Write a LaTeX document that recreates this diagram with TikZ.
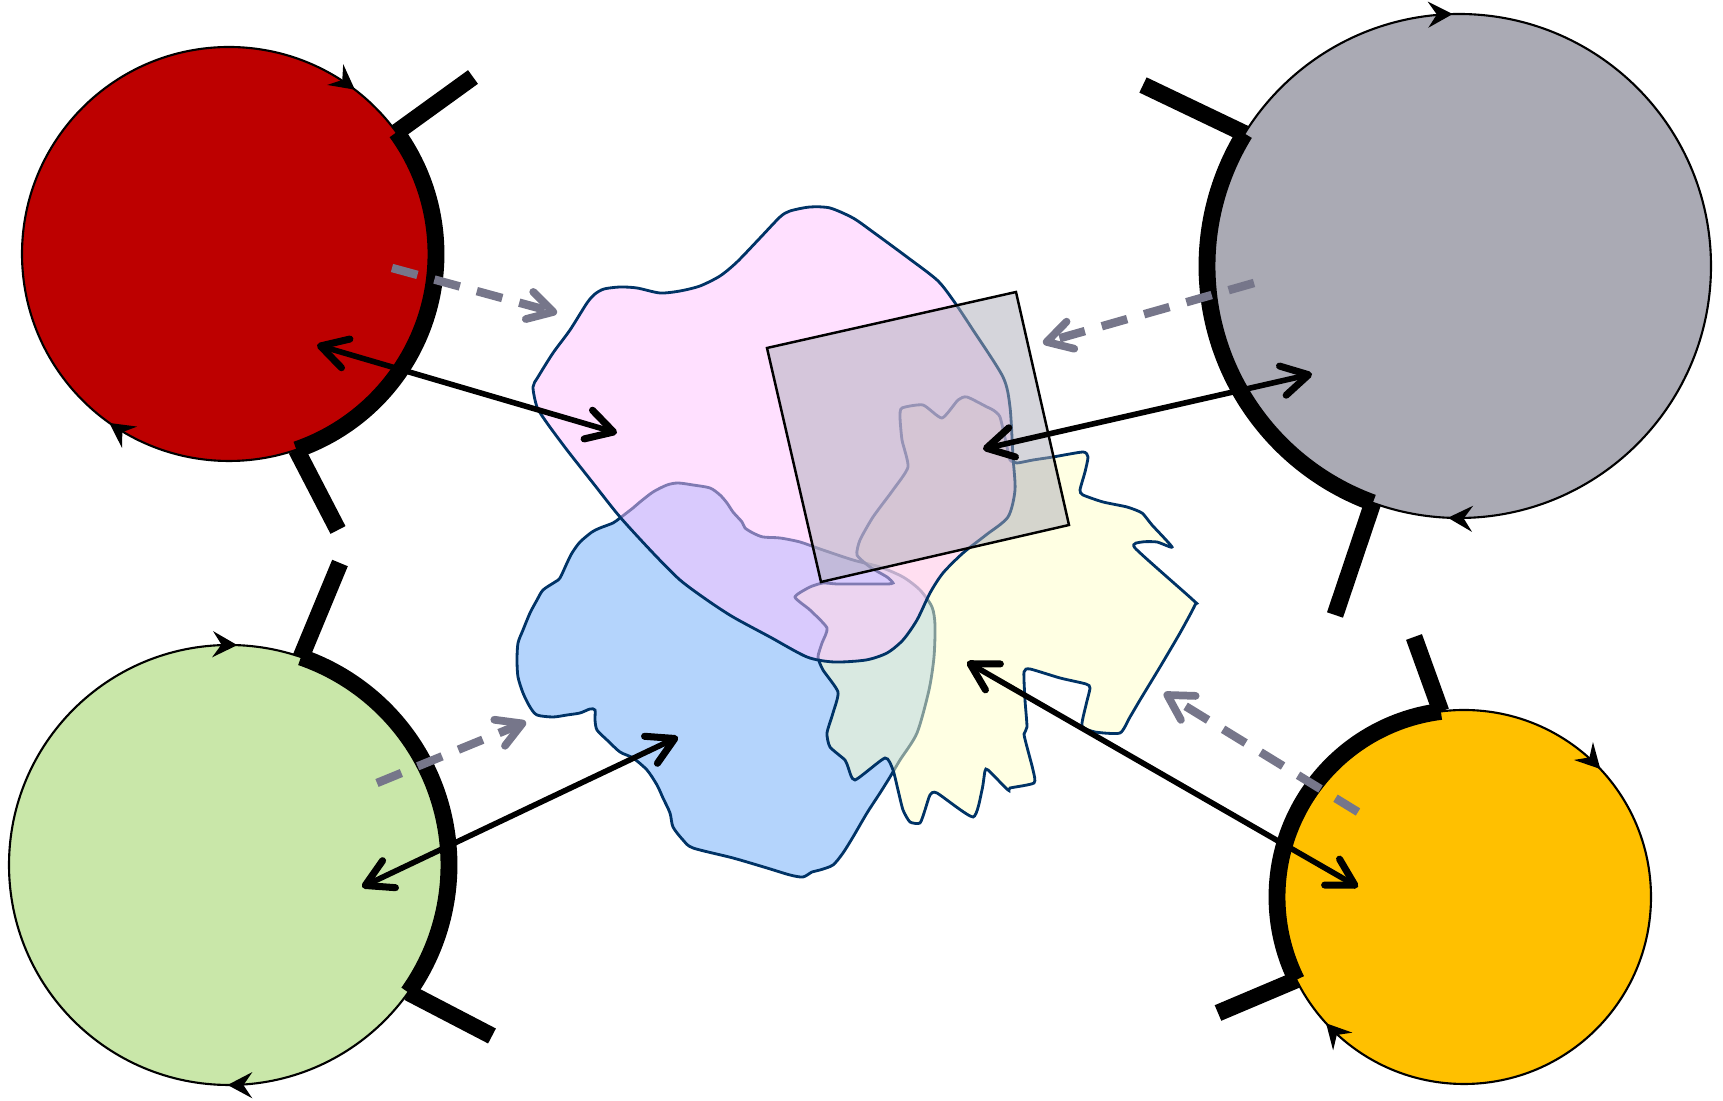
\documentclass[tikz,border=0pt]{standalone}
\usetikzlibrary{arrows.meta,decorations.markings}
\definecolor{cRed}{RGB}{189,0,0}
\definecolor{cGray}{RGB}{170,170,180}
\definecolor{cGreen}{RGB}{201,231,169}
\definecolor{cGold}{RGB}{255,192,0}
\definecolor{cBlue}{RGB}{180,212,252}
\definecolor{cPink}{RGB}{255,193,255}
\definecolor{cYel}{RGB}{255,255,200}
\definecolor{cSq}{RGB}{172,172,184}
\definecolor{cLine}{RGB}{0,51,102}
\definecolor{cDash}{RGB}{118,118,138}
\tikzset{
  disc/.style={draw=black,line width=0.6pt},
  rim/.style={line width=4.8pt},
  twomarks/.style 2 args={postaction={decorate},decoration={markings,
    mark=at position #1 with {\arrow{Stealth[length=7pt,width=7.4pt,inset=2.5pt]}},
    mark=at position #2 with {\arrow{Stealth[length=7pt,width=7.4pt,inset=2.5pt]}}}},
  blob/.style={draw=cLine,line width=0.8pt},
  link/.style={line width=1.6pt,
    {Straight Barb[length=7.5pt,width=8.5pt,line width=2pt,round]}-{Straight Barb[length=7.5pt,width=8.5pt,line width=2pt,round]}},
  hint/.style={draw=cDash,line width=2.4pt,dash pattern=on 7.5pt off 5pt,
    -{Straight Barb[length=7pt,width=8pt,line width=2.2pt,round]}}
}
\begin{document}
\begin{tikzpicture}[x=0.01cm,y=-0.01cm]
\useasboundingbox (0,0) rectangle (1723,1101);

% ---- circles ----
\coordinate (R) at (229,254);
\coordinate (G) at (1459,266);
\coordinate (N) at (229,865);
\coordinate (Y) at (1464,897);

\filldraw[fill=cRed,disc,twomarks={0.348}{0.854}] (R) circle[radius=207];
\filldraw[fill=cGray,disc,twomarks={0.257}{0.746}] (G) circle[radius=252];
\filldraw[fill=cGreen,disc,twomarks={0.251}{0.756}] (N) circle[radius=220];
\filldraw[fill=cGold,disc,twomarks={0.382}{0.880}] (Y) circle[radius=187];

% ---- thick rims and ticks ----
\path (R) ++(-36:207) coordinate (Ra);
\path (R) ++(71:207) coordinate (Rb);
\path (G) ++(211.7:252) coordinate (Ga);
\path (G) ++(110:252) coordinate (Gb);
\path (N) ++(-70.9:220) coordinate (Na);
\path (N) ++(35.4:220) coordinate (Nb);
\path (Y) ++(262.9:187) coordinate (Ya);
\path (Y) ++(153.7:187) coordinate (Yb);
\coordinate (RaT) at (473,77);
\coordinate (RbT) at (338,530);
\coordinate (GaT) at (1143,85);
\coordinate (GbT) at (1335,615);
\coordinate (NaT) at (340,563);
\coordinate (NbT) at (492,1036);
\coordinate (YaT) at (1414,637);
\coordinate (YbT) at (1218,1013);

\draw[rim] (Ra) arc[start angle=-36,end angle=71,radius=207];
\draw[rim] (Gb) arc[start angle=110,end angle=211.7,radius=252];
\draw[rim] (Na) arc[start angle=-70.9,end angle=35.4,radius=220];
\draw[rim] (Yb) arc[start angle=153.7,end angle=262.9,radius=187];
\draw[rim] (Ra) -- (RaT);
\draw[rim] (Rb) -- (RbT);
\draw[rim] (Ga) -- (GaT);
\draw[rim] (Gb) -- (GbT);
\draw[rim] (Na) -- (NaT);
\draw[rim] (Nb) -- (NbT);
\draw[rim] (Ya) -- (YaT);
\draw[rim] (Yb) -- (YbT);

% ---- blue blob ----
\filldraw[blob,fill=cBlue] plot[smooth cycle,tension=0.45] coordinates {
(592,532) (600,528) (613,523) (620,518) (633,508) (640,502) (653,492) (667,485)
(678,483) (693,485) (710,488) (720,495) (727,503) (733,512) (742,522) (745,528)
(753,533) (763,537) (780,538) (800,542) (820,549) (853,560) (880,567) (903,577)
(920,590) (932,607) (935,625) (934,657) (929,690) (917,733) (900,760) (890,777)
(880,793) (867,813) (853,837) (843,853) (833,865) (820,870) (812,872) (803,877)
(790,875) (767,868) (733,858) (693,848) (683,840) (673,827) (670,813) (663,798)
(657,785) (647,770) (633,758) (620,752) (607,740) (597,730) (595,720) (595,710)
(590,709) (580,713) (567,715) (553,717) (537,715) (530,707) (523,693) (518,677)
(517,660) (518,643) (523,630) (530,613) (537,600) (543,590) (555,582) (560,578)
(567,563) (572,553) (580,542)};

% ---- yellow blob ----
\filldraw[blob,fill=cYel,fill opacity=0.5] plot[smooth cycle,tension=0.35] coordinates {
(1053,457) (1083,452) (1088,457) (1085,472) (1080,490) (1083,495) (1103,502)
(1127,507) (1142,513) (1152,525) (1172,547) (1157,542) (1142,542) (1135,548)
(1193,600) (1195,605) (1180,633) (1160,667) (1140,700) (1130,717) (1120,733)
(1095,732) (1082,726) (1086,705) (1090,688) (1086,684) (1060,678) (1030,669)
(1024,672) (1025,700) (1027,727) (1024,734) (1027,747) (1033,770) (1034,783)
(1010,788) (1008,790) (988,770) (985,771) (982,790) (973,817) (937,793) (930,795)
(925,810) (920,823) (910,822) (903,810) (898,790) (893,770) (885,758) (855,780)
(848,767) (845,760) (830,747) (827,733) (833,713) (838,692) (823,670) (818,657)
(822,643) (827,628) (810,610) (795,597) (810,587) (823,583) (837,584) (860,584)
(887,584) (893,583) (887,577) (870,567) (857,555) (860,540) (873,517) (893,490)
(908,467) (902,440) (900,417) (902,408) (923,405) (942,418) (958,400) (967,397)
(987,407) (993,410) (1000,417) (1007,447) (1010,460) (1017,463) (1033,460)};

% ---- pink blob ----
\filldraw[blob,fill=cPink,fill opacity=0.5] plot[smooth cycle,tension=0.45] coordinates {
(790,211) (810,207) (830,208) (853,218) (873,232) (907,257) (937,280) (953,300)
(973,330) (1003,377) (1010,407) (1013,457) (1015,490) (1008,517) (986,535)
(963,553) (943,573) (930,593) (917,620) (903,640) (887,653) (866,660) (834,662)
(807,657) (770,637) (733,617) (707,600) (680,580) (653,553) (620,517) (593,483)
(567,450) (547,423) (537,407) (533,387) (538,377) (553,353) (570,330) (587,303)
(595,294) (604,289) (620,287) (637,288) (660,293) (680,291) (700,286) (720,276)
(737,262) (760,238) (780,217)};

% ---- square ----
\filldraw[draw=black,line width=0.7pt,fill=cSq,fill opacity=0.5]
  (767,348) -- (1016,292) -- (1069,525) -- (821,582) -- cycle;

% ---- dashed arrows ----
\coordinate (rd0) at (392,268);  \coordinate (rd1) at (557,313);
\coordinate (gd0) at (1254,283); \coordinate (gd1) at (1043,343);
\coordinate (nd0) at (377,783);  \coordinate (nd1) at (526,722);
\coordinate (yd0) at (1358,812); \coordinate (yd1) at (1164,693);
\draw[hint] (rd0) -- (rd1);
\draw[hint] (gd0) -- (gd1);
\draw[hint] (nd0) -- (nd1);
\draw[hint] (yd0) -- (yd1);

% ---- solid double arrows ----
\coordinate (rs0) at (317,345);  \coordinate (rs1) at (617,433);
\coordinate (gs0) at (1312,374); \coordinate (gs1) at (983,449);
\coordinate (ns0) at (362,887);  \coordinate (ns1) at (678,737);
\coordinate (ys0) at (1358,887); \coordinate (ys1) at (967,662);
\draw[link] (rs0) -- (rs1);
\draw[link] (gs0) -- (gs1);
\draw[link] (ns0) -- (ns1);
\draw[link] (ys0) -- (ys1);
\end{tikzpicture}
\end{document}
